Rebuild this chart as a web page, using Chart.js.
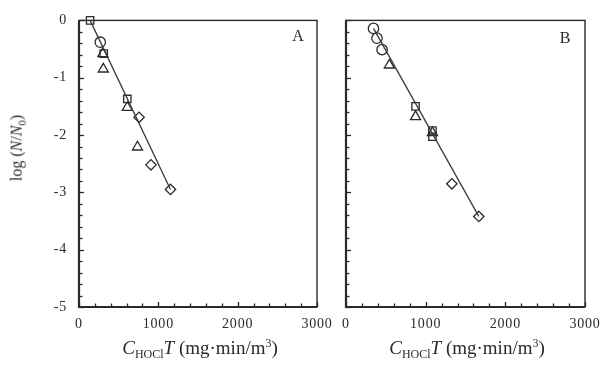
<!DOCTYPE html>
<html>
<head>
<meta charset="utf-8">
<script src="https://cdn.jsdelivr.net/npm/chart.js@4"></script>
<style>
  html, body { margin:0; padding:0; background:#fff; }
  #wrap { position:relative; width:611px; height:372px; overflow:hidden; background:#fff; }
  canvas { position:absolute; left:0; top:0; }
  .t { position:absolute; font-family:"Liberation Serif","DejaVu Serif",serif; color:#2a2a2a; white-space:nowrap; line-height:1.15; }
  .xt { font-size:19px; top:337px; transform:translateX(-50%); }
  .yt { font-size:16px; left:18px; top:148px; transform:translate(-50%,-50%) rotate(-90deg); }
  .pl { font-size:16px; transform:translate(-50%,-50%); }
  sub { font-size:12px; vertical-align:-4px; }
  sup { font-size:12px; vertical-align:7px; }
  .yt sub { font-size:11px; }
</style>
</head>
<body>
<div id="wrap">
  <canvas id="cA" width="611" height="372"></canvas>
  <canvas id="cB" width="611" height="372"></canvas>
  <div class="t yt">log (<i>N</i>/<i>N</i><sub>0</sub>)</div>
  <div class="t xt" style="left:200px"><i>C</i><sub>HOCl</sub><i>T</i> (mg·min/m<sup>3</sup>)</div>
  <div class="t xt" style="left:467px"><i>C</i><sub>HOCl</sub><i>T</i> (mg·min/m<sup>3</sup>)</div>
  <div class="t pl" style="left:298px;top:36px">A</div>
  <div class="t pl" style="left:565px;top:38px">B</div>
</div>
<script>
// ---- data (x = C_HOCl*T in mg·min/m3, y = log(N/N0)) ----
const xTickLabels = [0, 1000, 2000, 3000];
const yTickLabels = [0, -1, -2, -3, -4, -5];

const circlesA   = [[268, -0.38]];
const squaresA   = [[140, 0.0], [312, -0.58], [609, -1.37]];
const trianglesA = [[300, -0.58], [306, -0.85], [609, -1.52], [737, -2.21]];
const diamondsA  = [[757, -1.69], [907, -2.52], [1153, -2.95]];
const fitA       = [[140, 0.0], [1153, -2.95]];

const circlesB   = [[345, -0.14], [389, -0.31], [453, -0.51]];
const squaresB   = [[873, -1.50], [1085, -1.92], [1085, -2.03]];
const trianglesB = [[544, -0.78], [873, -1.68], [1085, -1.96]];
const diamondsB  = [[1329, -2.85], [1667, -3.42]];
const fitB       = [[345, -0.14], [1667, -3.42]];

const toPts = a => a.map(p => ({x: p[0], y: p[1]}));
const INK = '#2a2a2a';
const FONT = "'Liberation Serif', 'DejaVu Serif', serif";

const spacing = {
  id: 'spacing',
  beforeDraw(chart) { chart.ctx.letterSpacing = '0.8px'; },
  afterDraw(chart) { chart.ctx.letterSpacing = '0px'; }
};

const frame = {
  id: 'frame',
  afterDraw(chart) {
    const {ctx, chartArea: a, scales} = chart;
    ctx.save();
    ctx.strokeStyle = INK;
    ctx.lineWidth = 1.3;
    const xs = scales.x, ys = scales.y;
    xs.ticks.forEach(t => {
      const px = Math.round(xs.getPixelForValue(t.value)) + 0.5;
      const major = Math.abs(t.value % 1000) < 1e-6;
      const L = major ? 5 : 3.5;
      ctx.beginPath(); ctx.moveTo(px, a.bottom); ctx.lineTo(px, a.bottom - L); ctx.stroke();
    });
    ys.ticks.forEach(t => {
      const py = Math.round(ys.getPixelForValue(t.value)) + 0.5;
      const major = Math.abs(t.value - Math.round(t.value)) < 1e-6;
      const L = major ? 5 : 3.5;
      ctx.beginPath(); ctx.moveTo(a.left, py); ctx.lineTo(a.left + L, py); ctx.stroke();
    });
    ctx.lineWidth = 1.4;
    ctx.strokeRect(a.left, a.top, a.right - a.left, a.bottom - a.top);
    ctx.lineWidth = 2.2;
    ctx.beginPath();
    ctx.moveTo(a.left, a.top); ctx.lineTo(a.left, a.bottom); ctx.lineTo(a.right, a.bottom);
    ctx.stroke();
    ctx.restore();
  }
};

function makeChart(id, d, area, showYLabels) {
  const mk = (data, style, r) => ({
    type: 'scatter', data: toPts(data), pointStyle: style, pointRadius: r, clip: false,
    backgroundColor: 'rgba(255,255,255,0)', borderColor: INK, pointBorderWidth: 1.3, showLine: false
  });
  return new Chart(document.getElementById(id), {
    type: 'scatter',
    data: {
      datasets: [
        { type: 'line', data: toPts(d.fit), borderColor: '#3a3a3a', borderWidth: 1.3, pointRadius: 0, fill: false, clip: false },
        mk(d.circles, 'circle', 5.2),
        mk(d.squares, 'rect', 5.2),
        mk(d.triangles, 'triangle', 5.8),
        mk(d.diamonds, 'rectRot', 5.2)
      ]
    },
    options: {
      responsive: false, animation: false, devicePixelRatio: 1,
      layout: { padding: { left: 0, right: 611 - area.right, top: area.top, bottom: 0 } },
      plugins: { legend: { display: false }, tooltip: { enabled: false } },
      scales: {
        x: {
          type: 'linear', min: 0, max: 3000,
          afterFit: s => { s.height = 372 - area.bottom; },
          grid: { display: false, drawTicks: false },
          border: { display: false },
          ticks: {
            stepSize: 200, autoSkip: false, maxRotation: 0, padding: 9,
            color: INK, font: { family: FONT, size: 14 },
            callback: v => xTickLabels.includes(v) ? String(v) : ''
          }
        },
        y: {
          type: 'linear', min: -5, max: 0,
          afterFit: s => { s.width = area.left; },
          grid: { display: false, drawTicks: false },
          border: { display: false },
          ticks: {
            stepSize: 0.2, autoSkip: false, padding: 12,
            color: INK, font: { family: FONT, size: 14 },
            callback: v => {
              const r = Math.round(v);
              return (showYLabels && Math.abs(v - r) < 1e-6 && yTickLabels.includes(r)) ? (r === 0 ? '0' : '-' + Math.abs(r)) : '';
            }
          }
        }
      }
    },
    plugins: [spacing, frame]
  });
}

makeChart('cA', { circles: circlesA, squares: squaresA, triangles: trianglesA, diamonds: diamondsA, fit: fitA },
  { left: 79, right: 317, top: 14, bottom: 307 }, true);
makeChart('cB', { circles: circlesB, squares: squaresB, triangles: trianglesB, diamonds: diamondsB, fit: fitB },
  { left: 346, right: 585, top: 15, bottom: 307 }, false);
</script>
</body>
</html>
